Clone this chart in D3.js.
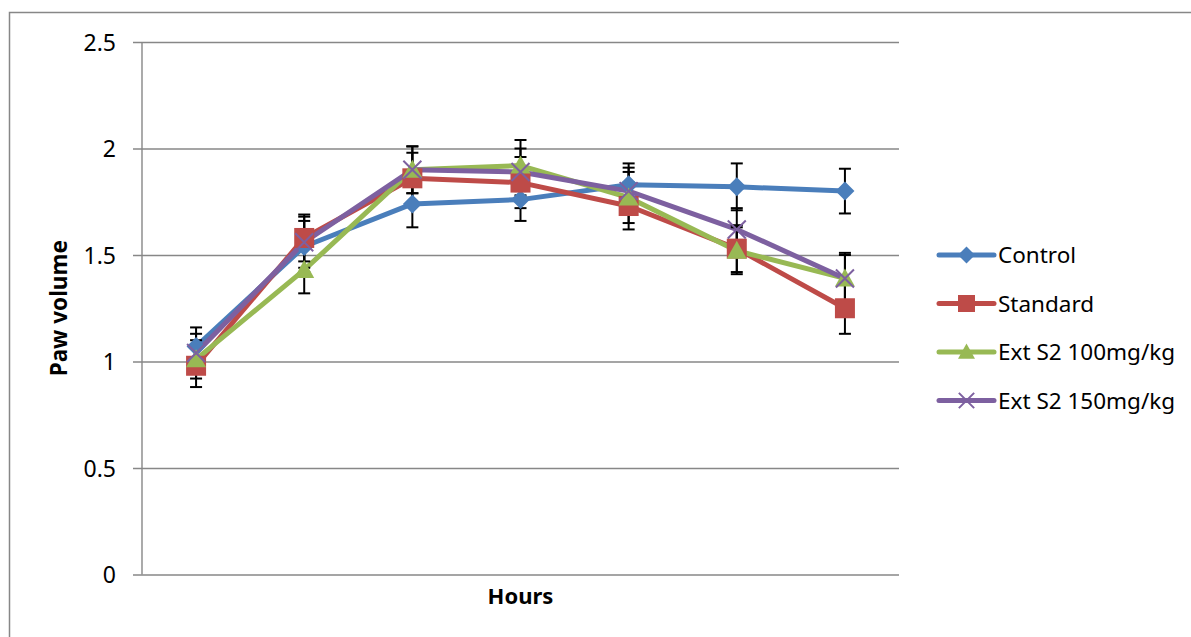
<!DOCTYPE html>
<html>
<head>
<meta charset="utf-8">
<script src="https://cdn.jsdelivr.net/npm/d3@7"></script>
<style>
  html, body { margin: 0; padding: 0; background: #ffffff; }
  svg { display: block; font-family: "Noto Sans", "Open Sans", sans-serif; }
</style>
</head>
<body>
<svg id="chart" width="1191" height="637"></svg>
<script>
// ---- data ----
const categories = ["0", "1", "2", "3", "4", "5", "6"];
const yTicks = [0, 0.5, 1, 1.5, 2, 2.5];
const seriesNames = ["Control", "Standard", "Ext S2 100mg/kg", "Ext S2 150mg/kg"];
const control  = [1.07, 1.54, 1.74, 1.76, 1.83, 1.82, 1.80];
const standard = [0.98, 1.58, 1.86, 1.84, 1.73, 1.53, 1.25];
const ext100   = [1.01, 1.43, 1.90, 1.92, 1.77, 1.52, 1.39];
const ext150   = [1.04, 1.56, 1.90, 1.89, 1.80, 1.62, 1.39];
const controlErr  = [0.09, 0.12, 0.11, 0.10, 0.10, 0.11, 0.105];
const standardErr = [0.10, 0.11, 0.12, 0.12, 0.11, 0.11, 0.12];
const ext100Err   = [0.09, 0.11, 0.11, 0.12, 0.12, 0.11, 0.12];
const ext150Err   = [0.09, 0.12, 0.11, 0.11, 0.11, 0.10, 0.11];

const colors = ["#4A7EBB", "#BE4B48", "#98B954", "#7D60A0"];
const shapes = ["diamond", "square", "triangle", "cross"];

(function () {
const series = [
  { name: seriesNames[0], values: control,  err: controlErr },
  { name: seriesNames[1], values: standard, err: standardErr },
  { name: seriesNames[2], values: ext100,   err: ext100Err },
  { name: seriesNames[3], values: ext150,   err: ext150Err }
].map((s, i) => ({ ...s, color: colors[i], shape: shapes[i] }));

// ---- layout ----
const svg = d3.select("#chart");
const pLeft = 142, pRight = 899, pTop = 42, pBottom = 574.5;
const gridColor = "#878787";

// outer chart border
svg.append("rect")
  .attr("x", 9.5).attr("y", 12.5).attr("width", 1300).attr("height", 700)
  .attr("fill", "none").attr("stroke", gridColor).attr("stroke-width", 1.5);

const x = d3.scaleBand().domain(categories).range([pLeft, pRight]);
const y = d3.scaleLinear().domain([0, 2.5]).range([pBottom, pTop]);
const cx = c => x(c) + x.bandwidth() / 2;

// gridlines + y axis (ticks extend left)
const yAxis = d3.axisLeft(y).tickValues(yTicks)
  .tickSize(-(pRight - pLeft)).tickSizeOuter(0)
  .tickFormat(d => String(d)).tickPadding(26);
const gy = svg.append("g").attr("transform", `translate(${pLeft},0)`).call(yAxis);
gy.select(".domain").remove();
gy.selectAll(".tick line").attr("stroke", gridColor).attr("stroke-width", 1.4)
  .attr("x1", -9).attr("x2", pRight - pLeft);
gy.selectAll(".tick text").attr("fill", "#000").attr("font-size", 23)
  .attr("font-family", "'Noto Sans', sans-serif").attr("dy", "0.35em");
// vertical axis line
svg.append("line").attr("x1", pLeft).attr("x2", pLeft).attr("y1", pTop).attr("y2", pBottom)
  .attr("stroke", gridColor).attr("stroke-width", 1.4);

// x axis (no tick labels)
const xAxis = d3.axisBottom(x).tickSize(0).tickFormat(() => "");
const gx = svg.append("g").attr("transform", `translate(0,${pBottom})`).call(xAxis);
gx.select(".domain").remove();

// axis titles
svg.append("text").attr("x", (pLeft + pRight) / 2).attr("y", 604)
  .attr("text-anchor", "middle").attr("font-weight", "bold").attr("font-size", 22)
  .text("Hours");
svg.append("text").attr("transform", `translate(67,${(pTop + pBottom) / 2}) rotate(-90)`)
  .attr("text-anchor", "middle").attr("font-weight", "bold").attr("font-size", 22.5)
  .text("Paw volume");

// ---- marker drawing ----
function drawMarker(g, shape, color, px, py, s) {
  if (shape === "diamond") {
    g.append("path").attr("d", `M${px},${py - s / 2}L${px + s / 2},${py}L${px},${py + s / 2}L${px - s / 2},${py}Z`)
      .attr("fill", color);
  } else if (shape === "square") {
    const h = s * 0.5;
    g.append("rect").attr("x", px - h).attr("y", py - h).attr("width", 2 * h).attr("height", 2 * h)
      .attr("fill", color);
  } else if (shape === "triangle") {
    const h = s * 0.5;
    g.append("path").attr("d", `M${px},${py - h}L${px + h},${py + h * 0.8}L${px - h},${py + h * 0.8}Z`)
      .attr("fill", color);
  } else {
    const h = s * 0.45;
    g.append("path").attr("d", `M${px - h},${py - h}L${px + h},${py + h}M${px - h},${py + h}L${px + h},${py - h}`)
      .attr("stroke", color).attr("stroke-width", 2).attr("fill", "none");
  }
}

const line = d3.line().x((d, i) => cx(categories[i])).y(d => y(d));
const plot = svg.append("g");

// lines
series.forEach(s => {
  plot.append("path").datum(s.values).attr("d", line)
    .attr("fill", "none").attr("stroke", s.color).attr("stroke-width", 5)
    .attr("stroke-linejoin", "round").attr("stroke-linecap", "round");
});

// error bars
series.forEach(s => {
  s.values.forEach((v, i) => {
    const px = cx(categories[i]);
    const y1 = y(v + s.err[i]), y2 = y(v - s.err[i]);
    const eg = plot.append("g").attr("stroke", "#000").attr("stroke-width", 2);
    eg.append("line").attr("x1", px).attr("x2", px).attr("y1", y1).attr("y2", y2);
    eg.append("line").attr("x1", px - 6).attr("x2", px + 6).attr("y1", y1).attr("y2", y1);
    eg.append("line").attr("x1", px - 6).attr("x2", px + 6).attr("y1", y2).attr("y2", y2);
  });
});

// markers
const mSize = { diamond: 19, square: 20, triangle: 20, cross: 20 };
series.forEach(s => {
  s.values.forEach((v, i) => {
    drawMarker(plot, s.shape, s.color, cx(categories[i]), y(v), mSize[s.shape]);
  });
});

// ---- legend ----
const legend = svg.append("g");
const lgX1 = 939, lgX2 = 994, lgY0 = 255, lgStep = 48.5;
series.forEach((s, i) => {
  const ly = lgY0 + i * lgStep;
  legend.append("line").attr("x1", lgX1).attr("x2", lgX2).attr("y1", ly).attr("y2", ly)
    .attr("stroke", s.color).attr("stroke-width", 5).attr("stroke-linecap", "round");
  drawMarker(legend, s.shape, s.color, (lgX1 + lgX2) / 2, ly, 17);
  legend.append("text").attr("x", 998).attr("y", ly).attr("dy", "0.36em")
    .attr("font-size", 22.5).attr("fill", "#000").text(s.name);
});
})();
</script>
</body>
</html>
